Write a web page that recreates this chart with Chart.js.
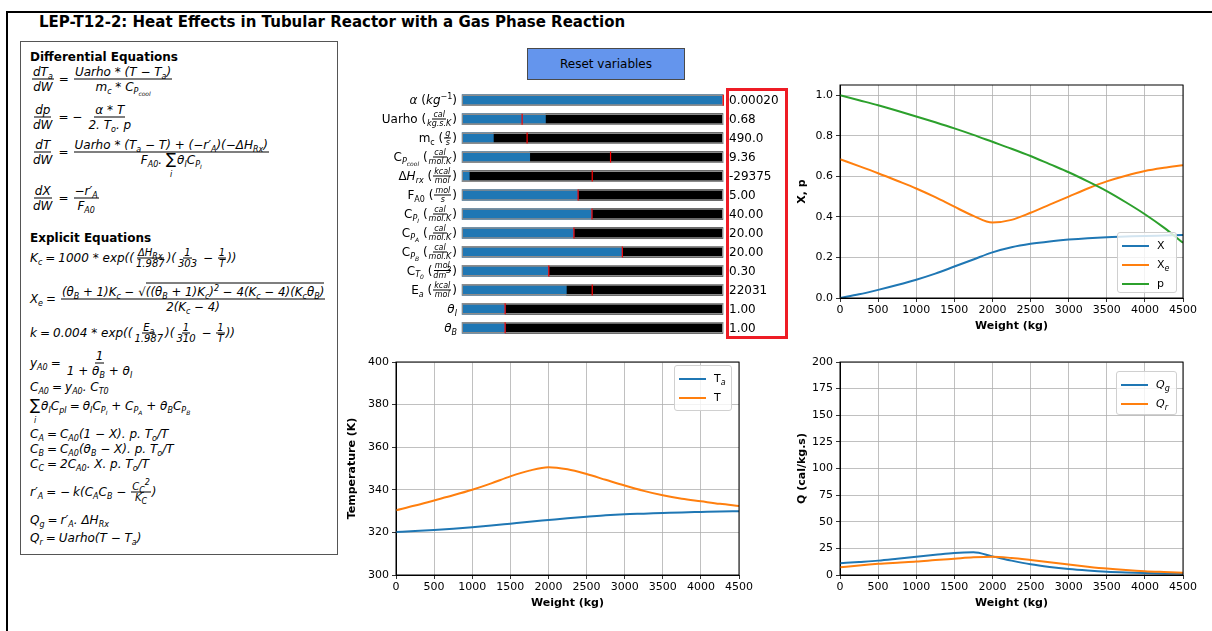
<!DOCTYPE html>
<html>
<head>
<meta charset="utf-8">
<script src="https://cdn.jsdelivr.net/npm/chart.js@4.4.1/dist/chart.umd.min.js"></script>
<style>
  body { margin: 0; width: 1212px; height: 631px; background: #fff; position: relative; overflow: hidden; font-family: 'DejaVu Sans', sans-serif; color: #000; }
  .marco { position: absolute; left: 6px; top: 11px; width: 1230px; height: 650px; border-top: 2px solid #000; border-left: 2px solid #000; }
  h1 { position: absolute; left: 39px; top: 13px; margin: 0; font-size: 15px; font-weight: bold; line-height: 18px; white-space: nowrap; }
  canvas { position: absolute; }

  /* Caja de ecuaciones */
  .caja { position: absolute; left: 20px; top: 41px; width: 318px; height: 514px; border: 1px solid #555; box-sizing: border-box; }
  .tit { position: absolute; left: 9px; font-weight: bold; font-size: 12px; line-height: 14px; white-space: nowrap; }
  .ec { position: absolute; left: 9px; transform: translateY(-50%); font-size: 12px; line-height: 16px; font-style: italic; white-space: nowrap; }
  .ig { font-style: normal; margin: 0 3px; }
  .fr { display: inline-flex; flex-direction: column; align-items: center; vertical-align: middle; margin: 0 2px; }
  .fr > span { line-height: 14px; padding: 0 1px; }
  .fr > span:first-child { border-bottom: 1px solid #000; }
  .fr.pq { font-size: 10px; margin: 0 1px; }
  .fr.pq > span { line-height: 10px; }
  sub { font-size: 8px; vertical-align: -3px; line-height: 0; }
  sub sub { font-size: 6px; vertical-align: -2px; }
  sup { font-size: 8px; vertical-align: 5px; line-height: 0; }
  .sum { position: relative; display: inline-block; font-style: normal; font-size: 15px; line-height: 13px; margin-right: 1px; }
  .sum i { position: absolute; left: 4px; top: 15px; font-size: 8px; }
  .rad { border-top: 1px solid #000; padding-top: 1px; }

  /* Deslizadores */
  .boton { position: absolute; left: 527px; top: 48px; width: 158px; height: 32px; box-sizing: border-box; background: #6495ed; border: 1px solid #4a4a4a; font-size: 12px; display: flex; align-items: center; justify-content: center; }
  .lab { position: absolute; right: 755px; transform: translateY(-50%); font-size: 12px; line-height: 16px; white-space: nowrap; }
  .fp { display: inline-flex; flex-direction: column; align-items: center; vertical-align: middle; font-size: 8px; line-height: 8px; font-style: italic; margin: 0 1px; }
  .fp > span:first-child { border-bottom: 1px solid #000; padding: 0 1px; }
  .val { position: absolute; left: 729px; transform: translateY(-50%); font-size: 12px; line-height: 16px; white-space: nowrap; }
  .rojo { position: absolute; left: 726px; top: 88px; width: 62px; height: 251px; box-sizing: border-box; border: 3px solid #ee1c25; }

  /* Leyendas */
  .ley { position: absolute; box-sizing: border-box; border: 1px solid #d0d0d0; border-radius: 3px; background: rgba(255, 255, 255, 0.8); padding-top: 3px; font-size: 11px; }
  .fila { height: 19px; display: flex; align-items: center; white-space: nowrap; }
  .lin { display: inline-block; width: 27px; height: 2px; margin: 0 8px 0 4px; flex: none; }
</style>
</head>
<body>
<div class="marco"></div>
<h1>LEP-T12-2: Heat Effects in Tubular Reactor with a Gas Phase Reaction</h1>

<div class="caja">
  <div class="tit" style="top:8px">Differential Equations</div>
  <div class="ec" style="top:37px"><span class="fr"><span>dT<sub>a</sub></span><span>dW</span></span><span class="ig">=</span><span class="fr"><span>Uarho * (T − T<sub>a</sub>)</span><span>m<sub>c</sub> * C<sub>P<sub>cool</sub></sub></span></span></div>
  <div class="ec" style="top:75px"><span class="fr"><span>dp</span><span>dW</span></span><span class="ig">= −</span><span class="fr"><span>α * T</span><span>2. T<sub>o</sub>. p</span></span></div>
  <div class="ec" style="top:110px"><span class="fr"><span>dT</span><span>dW</span></span><span class="ig">=</span><span class="fr"><span>Uarho * (T<sub>a</sub> − T) + (−r′<sub>A</sub>)(−ΔH<sub>Rx</sub>)</span><span>F<sub>A0</sub>. <span class="sum">∑<i>i</i></span>θ<sub>I</sub>C<sub>P<sub>I</sub></sub></span></span></div>
  <div class="ec" style="top:156px"><span class="fr"><span>dX</span><span>dW</span></span><span class="ig">=</span><span class="fr"><span>−r′<sub>A</sub></span><span>F<sub>A0</sub></span></span></div>

  <div class="tit" style="top:189px">Explicit Equations</div>
  <div class="ec" style="top:216px">K<sub>c</sub><span class="ig">=</span>1000 * exp((<span class="fr pq"><span>ΔH<sub>Rx</sub></span><span>1.987</span></span>)(<span class="fr pq"><span>1</span><span>303</span></span> − <span class="fr pq"><span>1</span><span>T</span></span>))</div>
  <div class="ec" style="top:257px; font-size:11.8px">X<sub>e</sub><span class="ig">=</span><span class="fr"><span>(θ<sub>B</sub> + 1)K<sub>c</sub> − √<span class="rad">((θ<sub>B</sub> + 1)K<sub>c</sub>)<sup>2</sup> − 4(K<sub>c</sub> − 4)(K<sub>c</sub>θ<sub>B</sub>)</span></span><span>2(K<sub>c</sub> − 4)</span></span></div>
  <div class="ec" style="top:291px">k<span class="ig">=</span>0.004 * exp((<span class="fr pq"><span>E<sub>a</sub></span><span>1.987</span></span>)(<span class="fr pq"><span>1</span><span>310</span></span> − <span class="fr pq"><span>1</span><span>T</span></span>))</div>
  <div class="ec" style="top:321px">y<sub>A0</sub><span class="ig">=</span><span class="fr"><span>1</span><span>1 + θ<sub>B</sub> + θ<sub>I</sub></span></span></div>
  <div class="ec" style="top:345px">C<sub>A0</sub><span class="ig">=</span>y<sub>A0</sub>. C<sub>T0</sub></div>
  <div class="ec" style="top:364px"><span class="sum">∑<i>i</i></span>θ<sub>I</sub>C<sub>pI</sub><span class="ig">=</span>θ<sub>I</sub>C<sub>P<sub>I</sub></sub> + C<sub>P<sub>A</sub></sub> + θ<sub>B</sub>C<sub>P<sub>B</sub></sub></div>
  <div class="ec" style="top:392px">C<sub>A</sub><span class="ig">=</span>C<sub>A0</sub>(1 − X). p. T<sub>o</sub>/T</div>
  <div class="ec" style="top:407px">C<sub>B</sub><span class="ig">=</span>C<sub>A0</sub>(θ<sub>B</sub> − X). p. T<sub>o</sub>/T</div>
  <div class="ec" style="top:422px">C<sub>C</sub><span class="ig">=</span>2C<sub>A0</sub>. X. p. T<sub>o</sub>/T</div>
  <div class="ec" style="top:450px">r′<sub>A</sub><span class="ig">= −</span>k(C<sub>A</sub>C<sub>B</sub> − <span class="fr pq"><span>C<sub>C</sub><sup>2</sup></span><span>K<sub>C</sub></span></span>)</div>
  <div class="ec" style="top:478px">Q<sub>g</sub><span class="ig">=</span>r′<sub>A</sub>. ΔH<sub>Rx</sub></div>
  <div class="ec" style="top:496px">Q<sub>r</sub><span class="ig">=</span>Uarho(T − T<sub>a</sub>)</div>
</div>

<div class="boton">Reset variables</div>
<canvas id="chart-sliders" width="275" height="260" style="left:455px; top:84px"></canvas>
<div id="etiquetas"></div>
<div class="rojo"></div>

<canvas id="chart-xp" width="413" height="258" style="left:790px; top:80px"></canvas>
<canvas id="chart-temp" width="419" height="265" style="left:340px; top:350px"></canvas>
<canvas id="chart-q" width="413" height="265" style="left:790px; top:350px"></canvas>

<div class="ley" style="left:1117px; top:232px; width:60px; height:61px">
  <div class="fila"><span class="lin" style="background:#1f77b4"></span><span>X</span></div>
  <div class="fila"><span class="lin" style="background:#ff7f0e"></span><span>X<sub><i>e</i></sub></span></div>
  <div class="fila"><span class="lin" style="background:#2ca02c"></span><span>p</span></div>
</div>
<div class="ley" style="left:674px; top:365px; width:58px; height:46px">
  <div class="fila"><span class="lin" style="background:#1f77b4"></span><span>T<sub><i>a</i></sub></span></div>
  <div class="fila"><span class="lin" style="background:#ff7f0e"></span><span>T</span></div>
</div>
<div class="ley" style="left:1116px; top:371px; width:61px; height:44px">
  <div class="fila"><span class="lin" style="background:#1f77b4"></span><span><i>Q<sub>g</sub></i></span></div>
  <div class="fila"><span class="lin" style="background:#ff7f0e"></span><span><i>Q<sub>r</sub></i></span></div>
</div>

<script>
// =====================================================
// Datos
// =====================================================
const PESOS = [0, 250, 500, 750, 1000, 1250, 1500, 1750, 2000, 2250, 2500, 2750, 3000, 3250, 3500, 3750, 4000, 4250, 4500];

const CONVERSION_X = [0, 0.018, 0.04, 0.064, 0.09, 0.12, 0.155, 0.19, 0.225, 0.25, 0.267, 0.279, 0.288, 0.295, 0.30, 0.303, 0.306, 0.308, 0.31];
const CONVERSION_XE = [0.684, 0.65, 0.615, 0.578, 0.54, 0.497, 0.45, 0.405, 0.372, 0.385, 0.42, 0.46, 0.50, 0.54, 0.575, 0.603, 0.626, 0.642, 0.655];
const PRESION_P = [1.0, 0.975, 0.95, 0.923, 0.895, 0.866, 0.836, 0.804, 0.77, 0.736, 0.70, 0.66, 0.62, 0.575, 0.527, 0.472, 0.413, 0.347, 0.272];

const TEMP_TA = [320.2, 320.6, 321.1, 321.7, 322.4, 323.2, 324.1, 325, 325.8, 326.6, 327.3, 328, 328.5, 328.8, 329.1, 329.4, 329.6, 329.8, 329.9];
const TEMP_T = [330.4, 332.6, 335, 337.4, 340, 343, 346.3, 349, 350.6, 349.6, 347.4, 344.7, 342, 339.5, 337.4, 335.8, 334.6, 333.4, 332.4];

const CALOR_QG = [11, 12.2, 13.5, 15.3, 17.2, 19, 20.7, 21.3, 17.5, 13.5, 10, 7.5, 5.6, 4.2, 3.1, 2.4, 1.9, 1.5, 1.2];
const CALOR_QR = [7.2, 9, 10.5, 11.6, 12.6, 14, 15.3, 16.6, 17.2, 16, 14.1, 12, 9.8, 7.8, 6, 4.6, 3.5, 2.8, 2.2];

const TICKS_PESO = [0, 500, 1000, 1500, 2000, 2500, 3000, 3500, 4000, 4500];
const TICKS_XP = [0, 0.2, 0.4, 0.6, 0.8, 1.0];
const TICKS_TEMP = [300, 320, 340, 360, 380, 400];
const TICKS_Q = [0, 25, 50, 75, 100, 125, 150, 175, 200];

// Deslizadores: nombre, etiqueta (html), valor mostrado, fracción llena y posición inicial
const NOMBRES_DESLIZ = ['alpha', 'Uarho', 'mc', 'Cpcool', 'dHrx', 'FA0', 'CpI', 'CpA', 'CpB', 'CT0', 'Ea', 'thetaI', 'thetaB'];
const ETIQUETAS_DESLIZ = [
  '<i>α</i>&nbsp;(<i>kg</i><sup>−1</sup>)',
  'Uarho (<span class="fp"><span>cal</span><span>kg.s.K</span></span>)',
  'm<sub>c</sub> (<span class="fp"><span>g</span><span>s</span></span>)',
  'C<sub><i>P<sub>cool</sub></i></sub> (<span class="fp"><span>cal</span><span>mol.K</span></span>)',
  'Δ<i>H<sub>rx</sub></i> (<span class="fp"><span>kcal</span><span>mol</span></span>)',
  'F<sub>A0</sub> (<span class="fp"><span>mol</span><span>s</span></span>)',
  'C<sub><i>P<sub>I</sub></i></sub> (<span class="fp"><span>cal</span><span>mol.K</span></span>)',
  'C<sub><i>P<sub>A</sub></i></sub> (<span class="fp"><span>cal</span><span>mol.K</span></span>)',
  'C<sub><i>P<sub>B</sub></i></sub> (<span class="fp"><span>cal</span><span>mol.K</span></span>)',
  'C<sub><i>T<sub>0</sub></i></sub> (<span class="fp"><span>mol</span><span>dm<sup>3</sup></span></span>)',
  'E<sub><i>a</i></sub> (<span class="fp"><span>kcal</span><span>mol</span></span>)',
  '<i>θ<sub>I</sub></i>',
  '<i>θ<sub>B</sub></i>',
];
const VALORES_DESLIZ = ['0.00020', '0.68', '490.0', '9.36', '-29375', '5.00', '40.00', '20.00', '20.00', '0.30', '22031', '1.00', '1.00'];
const RELLENO_DESLIZ = [1.0, 0.32, 0.121, 0.26, 0.029, 0.445, 0.498, 0.429, 0.614, 0.333, 0.40, 0.166, 0.166];
const INICIAL_DESLIZ = [1.0, 0.231, 0.25, 0.569, 0.499, 0.445, 0.498, 0.429, 0.614, 0.333, 0.499, 0.166, 0.166];

// =====================================================
// Estilo compartido (imita matplotlib)
// =====================================================
const FUENTE = "'DejaVu Sans', sans-serif";
const ESTILO = {
  texto: '#000',
  grilla: '#b0b0b0',
  azul: '#1f77b4',
  naranja: '#ff7f0e',
  verde: '#2ca02c',
};

/** Dibuja el marco completo (4 lados) alrededor del área del gráfico */
const marcoEjes = {
  id: 'marcoEjes',
  afterDraw(chart) {
    const { ctx, chartArea: a } = chart;
    ctx.save();
    ctx.strokeStyle = '#000';
    ctx.lineWidth = 1;
    ctx.strokeRect(a.left, a.top, a.right - a.left, a.bottom - a.top);
    ctx.restore();
  },
};

/** Gráfico de líneas genérico contra el peso de catalizador */
function renderGraficoLineas(id, series, eje) {
  const canvas = document.getElementById(id);
  if (!canvas || typeof Chart === 'undefined') return null;

  return new Chart(canvas, {
    type: 'line',
    data: {
      datasets: series.map((s, i) => ({
        label: s.nombre,
        data: PESOS.map((w, k) => ({ x: w, y: s.valores[k] })),
        borderColor: s.color,
        borderWidth: 2,
        pointRadius: 0,
        cubicInterpolationMode: 'monotone',
        fill: false,
        order: series.length - i, // el último queda arriba, como en matplotlib
      })),
    },
    options: {
      responsive: false,
      animation: false,
      events: [],
      layout: { padding: { left: 0, right: 20, top: eje.padTop, bottom: 0 } },
      plugins: { legend: { display: false }, tooltip: { enabled: false } },
      scales: {
        x: {
          type: 'linear', min: 0, max: 4500,
          afterBuildTicks: s => { s.ticks = TICKS_PESO.map(v => ({ value: v })); },
          afterFit: s => { s.height = 40; s.paddingLeft = 0; s.paddingRight = 0; },
          ticks: { color: ESTILO.texto, font: { family: FUENTE, size: 11 }, padding: 2, maxRotation: 0, autoSkip: false, callback: v => String(v) },
          grid: { color: ESTILO.grilla, lineWidth: 0.8, tickLength: 4, tickColor: '#000' },
          border: { color: '#000', width: 1 },
          title: { display: true, text: 'Weight (kg)', color: ESTILO.texto, font: { family: FUENTE, size: 11, weight: 'bold' }, padding: { top: 0, bottom: 5 } },
        },
        y: {
          type: 'linear', min: eje.min, max: eje.max,
          afterBuildTicks: s => { s.ticks = eje.ticks.map(v => ({ value: v })); },
          afterFit: s => { s.width = eje.ancho; s.paddingTop = 0; s.paddingBottom = 0; },
          ticks: { color: ESTILO.texto, font: { family: FUENTE, size: 11 }, padding: 3, autoSkip: false, callback: eje.formato },
          grid: { color: ESTILO.grilla, lineWidth: 0.8, tickLength: 4, tickColor: '#000' },
          border: { color: '#000', width: 1 },
          title: { display: true, text: eje.titulo, color: ESTILO.texto, font: { family: FUENTE, size: 11, weight: 'bold' }, padding: { top: 6, bottom: 0 } },
        },
      },
    },
    plugins: [marcoEjes],
  });
}

/** Barras horizontales que imitan los deslizadores de matplotlib */
function renderDeslizadores() {
  const canvas = document.getElementById('chart-sliders');
  if (!canvas || typeof Chart === 'undefined') return;

  const grafico = new Chart(canvas, {
    type: 'bar',
    data: {
      labels: NOMBRES_DESLIZ,
      datasets: [
        {
          type: 'scatter',
          data: INICIAL_DESLIZ.map((v, i) => ({ x: v, y: NOMBRES_DESLIZ[i] })),
          pointStyle: 'line', rotation: 90, radius: 5.5,
          borderColor: '#ff0000', backgroundColor: '#ff0000', borderWidth: 1.2,
          xAxisID: 'x', yAxisID: 'y', clip: false,
        },
        { data: NOMBRES_DESLIZ.map(() => 1), xAxisID: 'x2', stack: 'a', backgroundColor: 'rgba(0,0,0,0)', borderColor: '#8c8c8c', borderWidth: 1, borderSkipped: false },
        { data: RELLENO_DESLIZ, stack: 'a', backgroundColor: ESTILO.azul, borderWidth: 0 },
        { data: RELLENO_DESLIZ.map(f => 1 - f), stack: 'a', backgroundColor: '#000', borderWidth: 0 },
      ],
    },
    options: {
      indexAxis: 'y',
      responsive: false,
      animation: false,
      events: [],
      layout: { padding: 6 },
      datasets: { bar: { barThickness: 11 } },
      plugins: { legend: { display: false }, tooltip: { enabled: false } },
      scales: {
        x: { type: 'linear', min: 0, max: 1, stacked: true, display: false },
        x2: { type: 'linear', axis: 'x', min: 0, max: 1, display: false },
        y: { type: 'category', stacked: true, display: false },
      },
    },
  });

  // Etiquetas y valores alineados con la escala del gráfico
  const arriba = canvas.offsetTop;
  const cont = document.getElementById('etiquetas');
  NOMBRES_DESLIZ.forEach((_, i) => {
    const yc = arriba + grafico.scales.y.getPixelForValue(i);
    const lab = document.createElement('div');
    lab.className = 'lab';
    lab.style.top = yc + 'px';
    lab.innerHTML = ETIQUETAS_DESLIZ[i];
    cont.appendChild(lab);

    const val = document.createElement('div');
    val.className = 'val';
    val.style.top = yc + 'px';
    val.textContent = VALORES_DESLIZ[i];
    cont.appendChild(val);
  });
}

renderDeslizadores();

renderGraficoLineas('chart-xp', [
  { nombre: 'X', valores: CONVERSION_X, color: ESTILO.azul },
  { nombre: 'Xe', valores: CONVERSION_XE, color: ESTILO.naranja },
  { nombre: 'p', valores: PRESION_P, color: ESTILO.verde },
], { min: 0, max: 1.05, ticks: TICKS_XP, formato: v => v.toFixed(1), titulo: 'X, p', ancho: 50, padTop: 5 });

renderGraficoLineas('chart-temp', [
  { nombre: 'Ta', valores: TEMP_TA, color: ESTILO.azul },
  { nombre: 'T', valores: TEMP_T, color: ESTILO.naranja },
], { min: 300, max: 400, ticks: TICKS_TEMP, formato: v => String(v), titulo: 'Temperature (K)', ancho: 56, padTop: 12 });

renderGraficoLineas('chart-q', [
  { nombre: 'Qg', valores: CALOR_QG, color: ESTILO.azul },
  { nombre: 'Qr', valores: CALOR_QR, color: ESTILO.naranja },
], { min: 0, max: 200, ticks: TICKS_Q, formato: v => String(v), titulo: 'Q (cal/kg.s)', ancho: 50, padTop: 12 });
</script>
</body>
</html>
